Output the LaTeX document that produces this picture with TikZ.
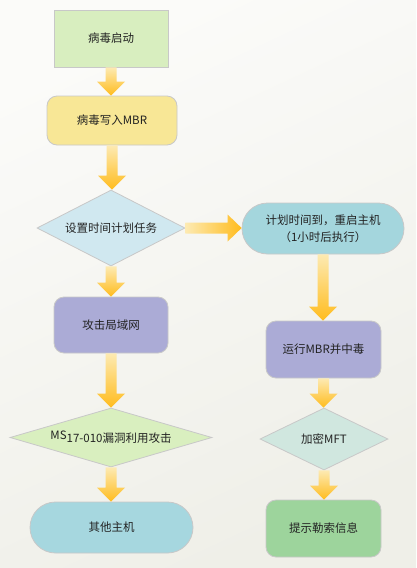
\documentclass[tikz,border=0pt]{standalone}
\usepackage{fontspec}
\newfontfamily\cjk{Noto Sans CJK SC}
\usetikzlibrary{shapes.geometric,calc}
\definecolor{cStart}{HTML}{D8EEBF}
\definecolor{cMbr}{HTML}{F8E796}
\definecolor{cDOne}{HTML}{D0E8F0}
\definecolor{cPlan}{HTML}{A4D6DD}
\definecolor{cAttack}{HTML}{ABABD6}
\definecolor{cDTwo}{HTML}{D9EFBF}
\definecolor{cOther}{HTML}{A6D7DF}
\definecolor{cDThree}{HTML}{D0E7DF}
\definecolor{cFinal}{HTML}{9DD49C}
\definecolor{cBorder}{HTML}{C8C8C8}
\definecolor{cArrLight}{HTML}{FDEAB2}
\definecolor{cArrDark}{HTML}{FFBC1E}
\definecolor{cTxt}{HTML}{222222}
\definecolor{bgTop}{HTML}{FBFBF9}
\definecolor{bgBot}{HTML}{EFEFE8}
\newcommand{\vArrow}[2]{%
  \path[top color=cArrLight,bottom color=cArrDark,shading angle=0] let \p1=(#1.south), \p2=(#2.north) in
    (\x1-5.5pt,\y1) -- (\x1+5.5pt,\y1) -- (\x1+5.5pt,\y2+14pt) -- (\x1+14pt,\y2+14pt)
    -- (\x1,\y2) -- (\x1-14pt,\y2+14pt) -- (\x1-5.5pt,\y2+14pt) -- cycle;}
\newcommand{\hArrow}[2]{%
  \path[left color=cArrLight,right color=cArrDark] let \p1=(#1.east), \p2=(#2.west) in
    (\x1,\y1+5.5pt) -- (\x2-14pt,\y1+5.5pt) -- (\x2-14pt,\y1+13.5pt) -- (\x2,\y1)
    -- (\x2-14pt,\y1-13.5pt) -- (\x2-14pt,\y1-5.5pt) -- (\x1,\y1-5.5pt) -- cycle;}
\begin{document}
\begin{tikzpicture}[x=1pt,y=-1pt,
  every node/.style={font=\cjk\fontsize{11.5}{17}\selectfont, text=cTxt, inner sep=0pt, align=center},
  box/.style={draw=cBorder, line width=0.8pt},
  rbox/.style={box, rectangle, rounded corners=10pt},
  stad/.style={box, rectangle, rounded corners=25.5pt, minimum height=51pt},
  dia/.style={box, diamond}]
\shade[top color=bgTop, bottom color=bgBot, shading angle=25] (0,0) rectangle (416,568);
\useasboundingbox (0,0) rectangle (416,568);

\node[box, fill=cStart, minimum width=114pt, minimum height=57pt] (start) at (111,38.5) {病毒启动};
\node[rbox, fill=cMbr, minimum width=130pt, minimum height=49pt] (mbr) at (112,120.5) {病毒写入MBR};
\node[dia, fill=cDOne, minimum width=148pt, minimum height=76pt, aspect=1.95] (d1) at (111,228) {设置时间计划任务};
\node[stad, fill=cPlan, minimum width=162pt] (plan) at (323,228.5) {计划时间到，重启主机\\（1小时后执行）};
\node[rbox, fill=cAttack, minimum width=114pt, minimum height=56pt] (attack) at (111,325) {攻击局域网};
\node[dia, fill=cDTwo, minimum width=202pt, minimum height=59pt, aspect=3.4] (d2) at (111,437.5) {\raisebox{3pt}{MS}17-010漏洞利用攻击};
\node[stad, fill=cOther, minimum width=163pt] (other) at (111.5,527.5) {其他主机};
\node[rbox, fill=cAttack, minimum width=115pt, minimum height=57pt] (run) at (323.5,349.5) {运行MBR并中毒};
\node[dia, fill=cDThree, minimum width=128pt, minimum height=62pt, aspect=2] (d3) at (324,439) {加密MFT};
\node[rbox, fill=cFinal, minimum width=115pt, minimum height=57pt] (final) at (323.5,528.5) {提示勒索信息};

\vArrow{start}{mbr}
\vArrow{mbr}{d1}
\vArrow{d1}{attack}
\vArrow{attack}{d2}
\vArrow{d2}{other}
\hArrow{d1}{plan}
\vArrow{plan}{run}
\vArrow{run}{d3}
\vArrow{d3}{final}
\end{tikzpicture}
\end{document}
